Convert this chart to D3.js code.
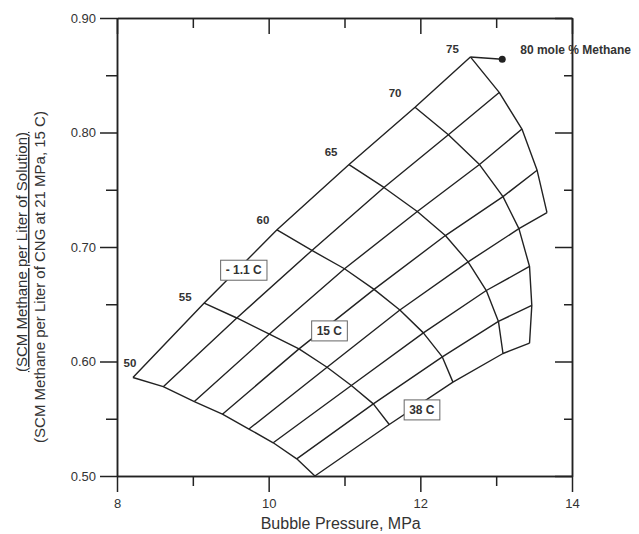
<!DOCTYPE html>
<html>
<head>
<meta charset="utf-8">
<script src="https://cdnjs.cloudflare.com/ajax/libs/d3/7.8.5/d3.min.js"></script>
<style>
  body { margin: 0; background: #fff; }
  svg text { font-family: Arial, 'Liberation Sans', sans-serif; fill: #333; }
</style>
</head>
<body>
<div id="graph"></div>
<script>
// isotherms (deg C) and mole % methane
const temps = ['-1.1', '4.4', '10', '15.6', '21.1', '26.7', '32.2', '37.8'];
const methane = [50, 55, 60, 65, 70, 75];

// bubble pressure, MPa, one row per isotherm (50 -> 75 mole %)
const pressure = [
  [8.21, 9.15, 10.11, 11.06, 11.93, 12.66],
  [8.61, 9.58, 10.57, 11.52, 12.37, 13.04],
  [9.02, 10.01, 11.00, 11.96, 12.78, 13.34],
  [9.39, 10.40, 11.39, 12.33, 13.09, 13.54],
  [9.74, 10.77, 11.73, 12.63, 13.30, 13.67],
  [10.06, 11.09, 12.04, 12.87, 13.44],
  [10.37, 11.38, 12.29, 13.03, 13.47],
  [10.61, 11.59, 12.43, 13.09, 13.44],
];

// SCM methane per liter ratio, same layout
const ratio = [
  [0.586, 0.651, 0.715, 0.772, 0.822, 0.866],
  [0.578, 0.638, 0.697, 0.752, 0.798, 0.835],
  [0.565, 0.624, 0.681, 0.731, 0.772, 0.803],
  [0.554, 0.611, 0.663, 0.710, 0.744, 0.767],
  [0.541, 0.595, 0.645, 0.687, 0.716, 0.730],
  [0.529, 0.579, 0.625, 0.662, 0.683],
  [0.515, 0.563, 0.604, 0.635, 0.649],
  [0.500, 0.545, 0.582, 0.607, 0.616],
];

const point80 = { p: 13.08, r: 0.864 };

const tempLabels = ['- 1.1 C', '15 C', '38 C'];
const tempLabelP = [9.67, 10.80, 12.02];
const tempLabelR = [0.680, 0.627, 0.558];

const xMajor = [8, 10, 12, 14];
const xMinor = [9, 11, 13];
const yMajor = [0.5, 0.6, 0.7, 0.8, 0.9];
const yMinor = [0.55, 0.65, 0.75, 0.85];

const margin = { top: 18, right: 67, bottom: 58, left: 117 };
const width = 639 - margin.left - margin.right;
const height = 534 - margin.top - margin.bottom;
const ink = '#222';

// nudges for the composition numbers along the -1.1 C line
const numberNudge = [[-3, -11], [-19, -2], [-14, -6], [-18, -9], [-20, -10], [-18, -4]];

const svg = d3.select('#graph')
  .append('svg')
  .attr('width', 639)
  .attr('height', 534)
  .append('g')
  .attr('transform', `translate(${margin.left},${margin.top})`);

const x = d3.scaleLinear().domain([8, 14]).range([0, width]);
const y = d3.scaleLinear().domain([0.5, 0.9]).range([height, 0]);

const styleAxis = (g) => {
  g.selectAll('path, line').attr('stroke', ink).attr('stroke-width', 1.5);
  g.selectAll('text').attr('font-size', 13).attr('fill', '#333');
};

svg.append('g')
  .attr('transform', `translate(0,${height})`)
  .call(d3.axisBottom(x).tickValues(xMajor).tickSize(16).tickSizeOuter(0)
    .tickPadding(7).tickFormat(d3.format('d')))
  .call(styleAxis);
svg.append('g')
  .attr('transform', `translate(0,${height})`)
  .call(d3.axisBottom(x).tickValues(xMinor).tickSize(10).tickSizeOuter(0).tickFormat(''))
  .call(styleAxis);
svg.append('g')
  .call(d3.axisTop(x).tickValues(xMajor).tickSize(-16).tickSizeOuter(0).tickFormat(''))
  .call(styleAxis);
svg.append('g')
  .call(d3.axisTop(x).tickValues(xMinor).tickSize(-10).tickSizeOuter(0).tickFormat(''))
  .call(styleAxis);

svg.append('g')
  .call(d3.axisLeft(y).tickValues(yMajor).tickSize(17).tickSizeOuter(0)
    .tickPadding(4).tickFormat(d3.format('.2f')))
  .call(styleAxis);
svg.append('g')
  .call(d3.axisLeft(y).tickValues(yMinor).tickSize(11).tickSizeOuter(0).tickFormat(''))
  .call(styleAxis);
svg.append('g')
  .attr('transform', `translate(${width},0)`)
  .call(d3.axisRight(y).tickValues(yMajor).tickSize(-17).tickSizeOuter(0).tickFormat(''))
  .call(styleAxis);
svg.append('g')
  .attr('transform', `translate(${width},0)`)
  .call(d3.axisRight(y).tickValues(yMinor).tickSize(-8).tickSizeOuter(0).tickFormat(''))
  .call(styleAxis);

// axis titles
svg.append('text')
  .attr('x', x(10.95))
  .attr('y', height + 53)
  .attr('text-anchor', 'middle')
  .attr('font-size', 16)
  .text('Bubble Pressure, MPa');

const yTitle = svg.append('g')
  .attr('transform', `translate(${-margin.left},${-margin.top}) rotate(-90)`);
yTitle.append('text')
  .attr('x', -252)
  .attr('y', 27)
  .attr('text-anchor', 'middle')
  .attr('font-size', 15)
  .style('text-decoration', 'underline')
  .text('(SCM Methane per Liter of Solution)');
yTitle.append('text')
  .attr('x', -277)
  .attr('y', 45)
  .attr('text-anchor', 'middle')
  .attr('font-size', 15)
  .text('(SCM Methane per Liter of CNG at 21 MPa, 15 C)');

// grid of isotherms and constant-composition curves
const line = d3.line()
  .x((d) => x(d[0]))
  .y((d) => y(d[1]));

const isotherms = temps.map((t, i) => pressure[i].map((p, j) => [p, ratio[i][j]]));
const compositions = methane.map((m, j) => temps
  .map((t, i) => (pressure[i][j] !== undefined ? [pressure[i][j], ratio[i][j]] : null))
  .filter((d) => d));

const grid = svg.append('g')
  .attr('fill', 'none')
  .attr('stroke', ink)
  .attr('stroke-width', 1.4)
  .attr('stroke-linejoin', 'round');

grid.selectAll('.isotherm')
  .data(isotherms)
  .enter()
  .append('path')
  .attr('class', 'isotherm')
  .attr('d', line);

grid.selectAll('.composition')
  .data(compositions)
  .enter()
  .append('path')
  .attr('class', 'composition')
  .attr('d', line);

// 80 mole % point
grid.append('path')
  .attr('d', line([[pressure[0][5], ratio[0][5]], [point80.p, point80.r]]));
svg.append('circle')
  .attr('cx', x(point80.p))
  .attr('cy', y(point80.r))
  .attr('r', 3.5)
  .attr('fill', ink);
svg.append('text')
  .attr('x', x(point80.p) + 18)
  .attr('y', y(point80.r) - 5)
  .attr('font-size', 12)
  .attr('font-weight', 'bold')
  .text('80 mole % Methane');

// composition numbers
svg.selectAll('.mole-label')
  .data(methane)
  .enter()
  .append('text')
  .attr('class', 'mole-label')
  .attr('x', (d, j) => x(pressure[0][j]) + numberNudge[j][0])
  .attr('y', (d, j) => y(ratio[0][j]) + numberNudge[j][1])
  .attr('text-anchor', 'middle')
  .attr('font-size', 11.5)
  .attr('font-weight', 'bold')
  .text((d) => d);

// boxed temperature labels
tempLabels.forEach((label, i) => {
  const g = svg.append('g')
    .attr('transform', `translate(${x(tempLabelP[i])},${y(tempLabelR[i])})`);
  const rect = g.append('rect').attr('fill', '#fff').attr('stroke', '#666').attr('stroke-width', 1);
  const txt = g.append('text')
    .attr('text-anchor', 'middle')
    .attr('dy', '0.36em')
    .attr('font-size', 12)
    .attr('font-weight', 'bold')
    .text(label);
  const bb = txt.node().getBBox();
  rect.attr('x', bb.x - 5).attr('y', bb.y - 3)
    .attr('width', bb.width + 10).attr('height', bb.height + 6);
});
</script>
</body>
</html>
